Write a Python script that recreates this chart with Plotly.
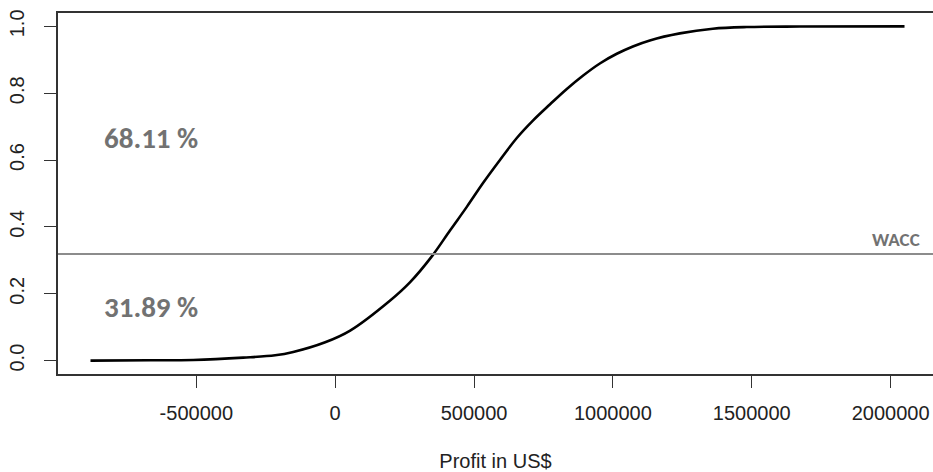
import plotly.graph_objects as go

# Cumulative distribution of simulated profit (US$)
profit = [-881000, -665000, -511000, -331000, -216000, -151000, -36000, 54000,
          198000, 270000, 348000, 414000, 474000, 533000, 594000, 654000,
          712000, 774000, 833000, 893000, 953000, 1014000, 1072000, 1133000,
          1241000, 1360000, 1482000, 1673000, 2050000]
cum_prob = [0.000, 0.001, 0.002, 0.009, 0.016, 0.026, 0.055, 0.090,
            0.180, 0.235, 0.312, 0.390, 0.460, 0.532, 0.601, 0.666,
            0.718, 0.767, 0.812, 0.853, 0.889, 0.918, 0.940, 0.958,
            0.979, 0.993, 0.998, 0.9995, 1.000]

wacc_share = 31.89          # % of outcomes below the WACC threshold
above_share = 68.11         # % of outcomes above it

x_ticks = [-500000, 0, 500000, 1000000, 1500000, 2000000]
x_tick_text = ["-500000", "0", "500000", "1000000", "1500000", "2000000"]
y_ticks = [0.0, 0.2, 0.4, 0.6, 0.8, 1.0]
y_tick_text = ["0.0", "0.2", "0.4", "0.6", "0.8", "1.0"]

axis_color = "#333333"
label_gray = "#727272"
tick_font = dict(family="Liberation Sans, Arial, sans-serif", size=20, color="#222222")

fig = go.Figure()
fig.add_trace(go.Scatter(
    x=profit, y=cum_prob, mode="lines",
    line=dict(color="black", width=2.6, shape="spline", smoothing=1.0),
    hoverinfo="skip", showlegend=False,
))

# WACC threshold line across the plot
fig.add_hline(y=wacc_share / 100, line=dict(color="#8c8c8c", width=2))

label_font = dict(family="Carlito, Open Sans, sans-serif", size=29, color=label_gray)
fig.add_annotation(x=-662000, y=0.667, text=f"<b>{above_share:.2f} %</b>",
                   showarrow=False, font=label_font, xanchor="center", yanchor="middle")
fig.add_annotation(x=-662000, y=0.159, text=f"<b>{wacc_share:.2f} %</b>",
                   showarrow=False, font=label_font, xanchor="center", yanchor="middle")
fig.add_annotation(x=2019000, y=wacc_share / 100, yshift=15, text="<b>WACC</b>",
                   showarrow=False, xanchor="center", yanchor="middle",
                   font=dict(family="Carlito, Open Sans, sans-serif", size=19, color=label_gray))

fig.update_layout(
    width=933, height=472,
    margin=dict(l=58, r=0, t=13, b=98),
    paper_bgcolor="white", plot_bgcolor="white",
    xaxis=dict(
        range=[-998000, 2152600], showgrid=False, zeroline=False,
        showline=True, mirror=True, linecolor=axis_color, linewidth=1.6,
        tickmode="array", tickvals=x_ticks, ticktext=x_tick_text,
        ticks="outside", ticklen=12, tickwidth=1.4, tickcolor=axis_color,
        tickfont=tick_font, ticklabelstandoff=8,
        title=dict(text="Profit in US$", standoff=32,
                   font=dict(family="Liberation Sans, Arial, sans-serif", size=20, color="#222222")),
    ),
    yaxis=dict(
        range=[-0.04, 1.04], showgrid=False, zeroline=False,
        showline=True, mirror=False, linecolor=axis_color, linewidth=1.6,
        tickmode="array", tickvals=y_ticks, ticktext=y_tick_text,
        ticks="outside", ticklen=12, tickwidth=1.4, tickcolor=axis_color,
        tickfont=tick_font, tickangle=-90, ticklabelstandoff=12,
    ),
)

fig.write_html("out.html")
